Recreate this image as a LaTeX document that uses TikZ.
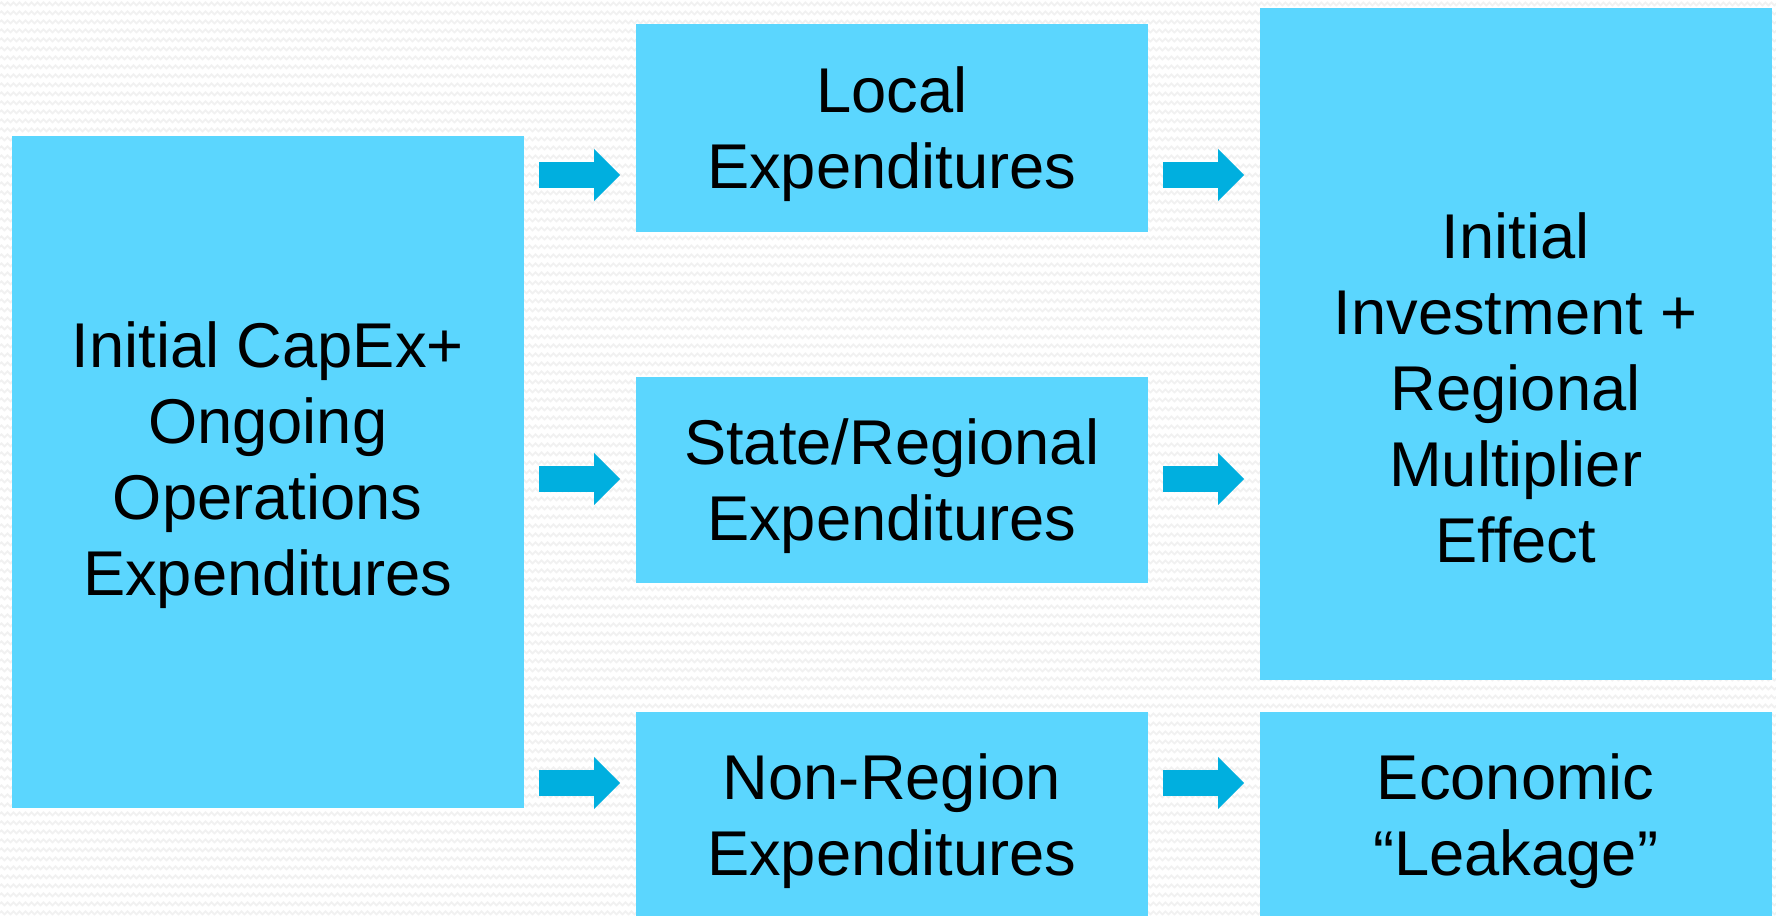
\documentclass[tikz,border=0pt]{standalone}
\usepackage{fontspec}
\setmainfont{Liberation Sans}
\usetikzlibrary{arrows.meta,decorations.pathmorphing}
\definecolor{boxblue}{HTML}{5BD6FE}
\definecolor{arrowblue}{HTML}{00AFDF}
\definecolor{ziggray}{HTML}{F1F1F1}
\tikzset{
	box/.style={fill=boxblue, draw=none, anchor=north west, inner sep=0pt, minimum width=5.12cm, align=center, text depth=0pt, font=\fontsize{18}{21.6}\selectfont},
	boxtext/.style={align=center, inner sep=0pt, text depth=0pt, font=\fontsize{18}{21.6}\selectfont},
	flow/.style={arrowblue, line width=0.26cm, -{Triangle[length=0.26cm, width=0.52cm, line width=0pt]}},
	bgzig/.style={ziggray, line width=0.5pt, decorate, decoration={zigzag, segment length=0.06cm, amplitude=0.015cm}}
}
\begin{document}
\begin{tikzpicture}
			\useasboundingbox (0,0) rectangle (17.76,-9.16);
			\fill[white] (0,0) rectangle (17.76,-9.16);
			\foreach \r in {0,...,101}{
				\draw[bgzig] (0,-0.04-\r*0.09) -- (17.76,-0.04-\r*0.09);
			}

			\node[box, minimum height=6.72cm] (spend) at (0.11,-1.35) {};
			\node[boxtext] (spendtext) at ([yshift=0.13cm]spend.center) {Initial CapEx+\\Ongoing\\Operations\\Expenditures};

			\node[box, minimum height=2.08cm] (local) at (6.35,-0.23) {Local\\Expenditures};
			\node[box, minimum height=2.06cm] (state) at (6.35,-3.76) {State/Regional\\Expenditures};
			\node[box, minimum height=2.05cm] (nonreg) at (6.35,-7.11) {Non-Region\\Expenditures};

			\node[box, minimum height=6.72cm] (total) at (12.59,-0.07) {};
			\node[boxtext] (totaltext) at ([yshift=-0.44cm]total.center) {Initial\\Investment +\\Regional\\Multiplier\\Effect};
			\node[box, minimum height=2.05cm] (leak) at (12.59,-7.11) {Economic\\“Leakage”};

			\foreach \src/\dst/\y in {spend/local/1.75, spend/state/4.79, spend/nonreg/7.83, local/total/1.75, state/total/4.79, nonreg/leak/7.83}{
				\draw[flow] ([xshift=0.15cm]\src.east |- 0,-\y) -- ([xshift=-0.15cm]\dst.west |- 0,-\y);
			}
\end{tikzpicture}
\end{document}
